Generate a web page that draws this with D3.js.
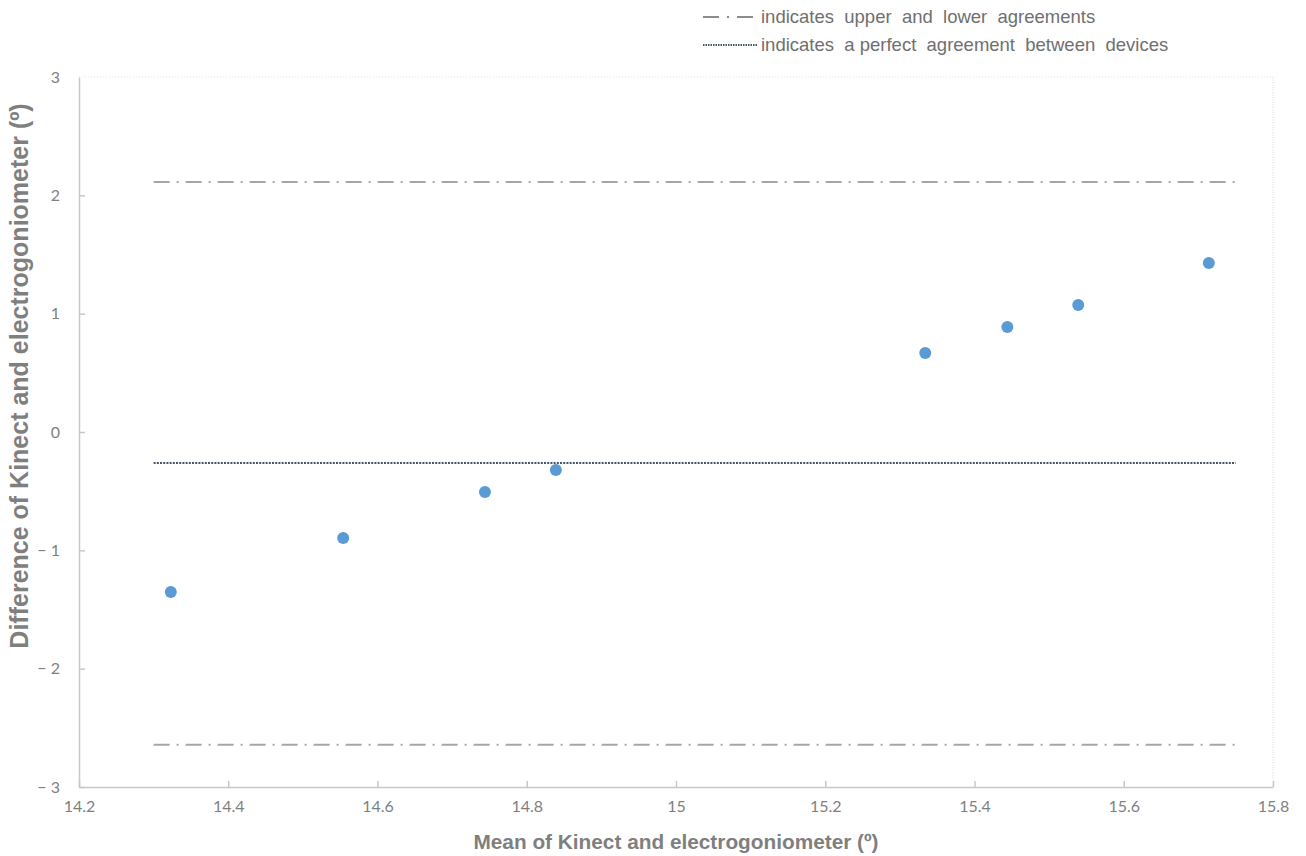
<!DOCTYPE html>
<html>
<head>
<meta charset="utf-8">
<script src="https://cdn.jsdelivr.net/npm/d3@7"></script>
<style>
  body { margin: 0; background: #fff; }
  text { font-family: Lato, "Open Sans", sans-serif; }
</style>
</head>
<body>
<div id="chart"></div>
<script>
// data
const meanValues = [14.323, 14.554, 14.744, 14.839, 15.334, 15.444, 15.539, 15.714];
const diffValues = [-1.352, -0.896, -0.507, -0.321, 0.668, 0.887, 1.073, 1.428];
const xTicks = [14.2, 14.4, 14.6, 14.8, 15, 15.2, 15.4, 15.6, 15.8];
const yTicks = [-3, -2, -1, 0, 1, 2, 3];
const limitLines = [2.113, -2.643];   // upper / lower agreement
const biasLine = -0.262;            // mean difference
const lineSpan = [14.3, 15.75];
const legendLabels = ["indicates  upper  and  lower  agreements",
                      "indicates  a perfect  agreement  between  devices"];

const width = 1306, height = 856;
const margin = {left: 79, right: 33, top: 77, bottom: 69};

const svg = d3.select("#chart").append("svg")
    .attr("width", width)
    .attr("height", height);

const x = d3.scaleLinear().domain([14.2, 15.8]).range([margin.left, width - margin.right]);
const y = d3.scaleLinear().domain([-3, 3]).range([height - margin.bottom, margin.top]);

const grey = "#7f7f7f";
const arial = "'Liberation Sans', Arial, sans-serif";

// frame: top and right dotted faint, left and bottom solid
svg.append("line")
    .attr("x1", x(14.2)).attr("x2", x(15.8)).attr("y1", y(3)).attr("y2", y(3))
    .attr("stroke", "#dfe6ee").attr("stroke-width", 1).attr("stroke-dasharray", "1,2");
svg.append("line")
    .attr("x1", x(15.8)).attr("x2", x(15.8)).attr("y1", y(3)).attr("y2", y(-3))
    .attr("stroke", "#c9d7ea").attr("stroke-width", 1).attr("stroke-dasharray", "1,1.5");

// axes, ticks pointing inward
const xAxis = svg.append("g")
    .attr("transform", `translate(0,${y(-3)})`)
    .call(d3.axisBottom(x).tickValues(xTicks).tickSizeInner(-6).tickSizeOuter(0)
        .tickPadding(14).tickFormat(d => d3.format("")(+d.toFixed(1))));
const yAxis = svg.append("g")
    .attr("transform", `translate(${x(14.2)},0)`)
    .call(d3.axisLeft(y).tickValues(yTicks).tickSizeInner(-6).tickSizeOuter(0)
        .tickPadding(19).tickFormat(d => d < 0 ? "\u2212 " + Math.abs(d) : d));

[xAxis, yAxis].forEach(g => {
  g.select(".domain").attr("stroke", "#c8c8c8").attr("stroke-width", 1.5);
  g.selectAll(".tick line").attr("stroke", "#c8c8c8").attr("stroke-width", 1.5);
  g.selectAll(".tick text").attr("fill", grey).style("font-size", "16px")
    .style("font-family", "Lato, 'Open Sans', sans-serif");
});
yAxis.select(".tick:last-of-type line").remove();

// agreement limits
svg.selectAll(".limit").data(limitLines).join("line")
    .attr("class", "limit")
    .attr("x1", x(lineSpan[0])).attr("x2", x(lineSpan[1]))
    .attr("y1", d => y(d)).attr("y2", d => y(d))
    .attr("stroke", "#a6a6a6").attr("stroke-width", 2)
    .attr("stroke-dasharray", "16,7,2,7");

// mean difference
svg.append("line")
    .attr("x1", x(lineSpan[0])).attr("x2", x(lineSpan[1]))
    .attr("y1", y(biasLine)).attr("y2", y(biasLine))
    .attr("stroke", "#44546a").attr("stroke-width", 2)
    .attr("stroke-dasharray", "2,1.2");

// points
svg.selectAll(".pt").data(meanValues).join("circle")
    .attr("class", "pt")
    .attr("cx", d => x(d))
    .attr("cy", (d, i) => y(diffValues[i]))
    .attr("r", 6)
    .attr("fill", "#5b9bd5");

// axis titles
svg.append("text")
    .attr("x", 676).attr("y", 849)
    .attr("text-anchor", "middle")
    .attr("fill", grey).style("font-size", "20.8px").style("font-weight", "bold")
    .style("font-family", arial)
    .text("Mean of Kinect and electrogoniometer (º)");
svg.append("text")
    .attr("transform", `translate(28,376) rotate(-90)`)
    .attr("text-anchor", "middle")
    .attr("fill", grey).style("font-size", "25px").style("font-weight", "bold")
    .style("font-family", arial)
    .text("Difference of Kinect and electrogoniometer (º)");

// legend
const legend = svg.append("g");
legend.append("line")
    .attr("x1", 703).attr("x2", 755).attr("y1", 17).attr("y2", 17)
    .attr("stroke", "#8c8c8c").attr("stroke-width", 2).attr("stroke-dasharray", "16,8,2,8");
legend.append("line")
    .attr("x1", 703).attr("x2", 757).attr("y1", 45).attr("y2", 45)
    .attr("stroke", "#44546a").attr("stroke-width", 2).attr("stroke-dasharray", "1.5,1");
legend.selectAll(".lg").data(legendLabels).join("text")
    .attr("class", "lg")
    .attr("x", 761).attr("y", (d, i) => 23 + i * 28)
    .attr("fill", "#6f6f6f").style("font-size", "18.5px")
    .style("font-family", arial)
    .style("white-space", "pre")
    .text(d => d);
</script>
</body>
</html>
